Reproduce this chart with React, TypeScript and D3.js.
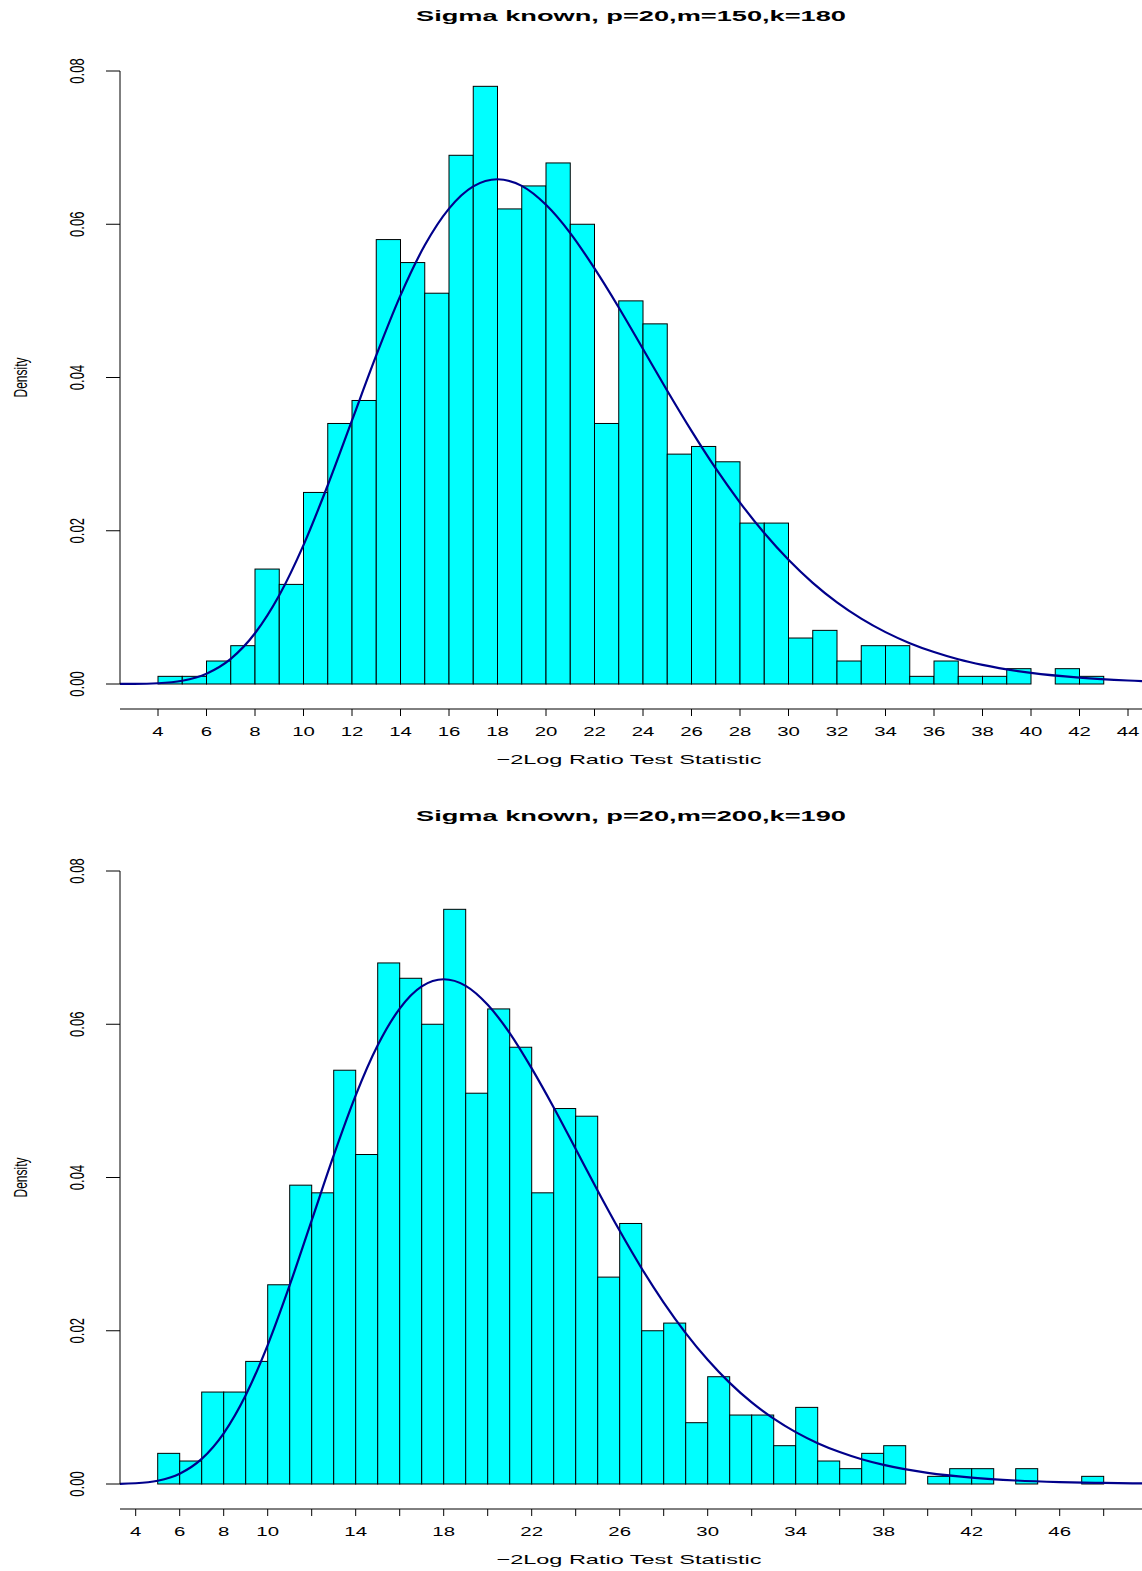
import React from "react";
import * as d3 from "d3";

// Histogram densities, one bin per unit of the statistic
const topBinStart = 4;
const topDensities = [
  0.001, 0.001, 0.003, 0.005, 0.015, 0.013, 0.025, 0.034, 0.037, 0.058,
  0.055, 0.051, 0.069, 0.078, 0.062, 0.065, 0.068, 0.06, 0.034, 0.05,
  0.047, 0.03, 0.031, 0.029, 0.021, 0.021, 0.006, 0.007, 0.003, 0.005,
  0.005, 0.001, 0.003, 0.001, 0.001, 0.002, 0, 0.002, 0.001,
];

const bottomBinStart = 5;
const bottomDensities = [
  0.004, 0.003, 0.012, 0.012, 0.016, 0.026, 0.039, 0.038, 0.054, 0.043,
  0.068, 0.066, 0.06, 0.075, 0.051, 0.062, 0.057, 0.038, 0.049, 0.048,
  0.027, 0.034, 0.02, 0.021, 0.008, 0.014, 0.009, 0.009, 0.005, 0.01,
  0.003, 0.002, 0.004, 0.005, 0, 0.001, 0.002, 0.002, 0, 0.002,
  0, 0, 0.001,
];

// Reference density curve (same in both panels)
const curveX = [
  2, 3, 4, 5, 6, 7, 8, 9, 10, 11, 12, 13, 14, 15, 16, 17, 18, 19, 20, 21,
  22, 23, 24, 25, 26, 27, 28, 29, 30, 31, 32, 33, 34, 35, 36, 37, 38, 40,
  42, 44, 46, 48, 50,
];
const curveY = [
  0.0000005, 0.0000118, 0.000095, 0.00043, 0.00135, 0.00328, 0.00662,
  0.01158, 0.01813, 0.02594, 0.03441, 0.04288, 0.05072, 0.05725, 0.06204,
  0.06494, 0.06587, 0.06501, 0.06254, 0.05885, 0.05424, 0.04914, 0.04372,
  0.03828, 0.03304, 0.02813, 0.02368, 0.0197, 0.01621, 0.0132, 0.01065,
  0.00853, 0.00677, 0.00533, 0.00417, 0.00323, 0.00249, 0.00145, 0.00083,
  0.00046, 0.00025, 0.000137, 0.000073,
];

const yTicks = [0, 0.02, 0.04, 0.06, 0.08];

const topTicks = d3.range(4, 45, 2);
const topTickLabels = topTicks;
const bottomTicks = d3.range(4, 49, 2);
const bottomTickLabels = [4, 6, 8, 10, 14, 18, 22, 26, 30, 34, 38, 42, 46];

const titles = [
  "Sigma known, p=20,m=150,k=180",
  "Sigma known, p=20,m=200,k=190",
];
const xLabel = "\u22122Log Ratio Test Statistic";
const yLabel = "Density";

const W = 1142;
const H = 1571;
const FONT = "'Liberation Sans', Arial, Helvetica, sans-serif";
const SX = 1.57;

type PanelProps = {
  offsetY: number;
  title: string;
  binStart: number;
  densities: number[];
  xDomain: [number, number];
  xRange: [number, number];
  ticks: number[];
  tickLabels: number[];
  id: string;
};

function Panel({ offsetY, title, binStart, densities, xDomain, xRange, ticks, tickLabels, id }: PanelProps) {
  const x = d3.scaleLinear().domain(xDomain).range(xRange);
  const y = d3.scaleLinear().domain([0, 0.08]).range([684, 71]);
  const plotLeft = 120;
  const axisY = 709;

  const line = d3
    .line<number>()
    .x((_, i) => x(curveX[i]))
    .y((d) => y(d))
    .curve(d3.curveMonotoneX);

  return (
    <g transform={`translate(0,${offsetY})`}>
      <defs>
        <clipPath id={id}>
          <rect x={plotLeft} y={0} width={W - plotLeft} height={700} />
        </clipPath>
      </defs>
      <text
        x={631}
        y={21}
        textAnchor="middle"
        fontFamily={FONT}
        fontWeight="bold"
        fontSize={14}
        textLength={430}
        lengthAdjust="spacingAndGlyphs"
      >
        {title}
      </text>

      {/* bars */}
      {densities.map((d, i) => {
        const x0 = x(binStart + i);
        const x1 = x(binStart + i + 1);
        return (
          <rect
            key={i}
            x={x0}
            y={y(d)}
            width={x1 - x0}
            height={y(0) - y(d)}
            fill="#00FFFF"
            stroke="#000"
            strokeWidth={1}
          />
        );
      })}

      {/* density curve */}
      <path
        d={line(curveY) || ""}
        fill="none"
        stroke="#00008B"
        strokeWidth={2.2}
        clipPath={`url(#${id})`}
      />

      {/* y axis */}
      <line x1={plotLeft} x2={plotLeft} y1={y(0)} y2={y(0.08)} stroke="#000" strokeWidth={1} />
      {yTicks.map((t) => (
        <g key={t}>
          <line x1={plotLeft - 14} x2={plotLeft} y1={y(t)} y2={y(t)} stroke="#000" strokeWidth={1} />
          <text
            transform={`translate(84,${y(t)}) scale(${SX},1) rotate(-90)`}
            textAnchor="middle"
            fontFamily={FONT}
            fontSize={13}
          >
            {t.toFixed(2)}
          </text>
        </g>
      ))}
      <text
        transform={`translate(27,${(y(0) + y(0.08)) / 2}) scale(${SX},1) rotate(-90)`}
        textAnchor="middle"
        fontFamily={FONT}
        fontSize={12}
      >
        {yLabel}
      </text>

      {/* x axis */}
      <line x1={plotLeft} x2={W} y1={axisY} y2={axisY} stroke="#000" strokeWidth={1} />
      {ticks.map((t) => (
        <line key={t} x1={x(t)} x2={x(t)} y1={axisY} y2={axisY + 7} stroke="#000" strokeWidth={1} />
      ))}
      {tickLabels.map((t) => (
        <text
          key={t}
          transform={`translate(${x(t)},736) scale(${SX},1)`}
          textAnchor="middle"
          fontFamily={FONT}
          fontSize={13}
        >
          {t}
        </text>
      ))}
      <text
        x={629}
        y={764}
        textAnchor="middle"
        fontFamily={FONT}
        fontSize={13}
        textLength={265}
        lengthAdjust="spacingAndGlyphs"
      >
        {xLabel}
      </text>
    </g>
  );
}

export default function App() {
  return (
    <div style={{ position: "absolute", left: 0, top: 0 }}>
      <svg width={W} height={H} style={{ display: "block", background: "#fff" }}>
        <Panel
          id="clipTop"
          offsetY={0}
          title={titles[0]}
          binStart={topBinStart}
          densities={topDensities}
          xDomain={[4, 44]}
          xRange={[158, 1128]}
          ticks={topTicks}
          tickLabels={topTickLabels}
        />
        <Panel
          id="clipBottom"
          offsetY={800}
          title={titles[1]}
          binStart={bottomBinStart}
          densities={bottomDensities}
          xDomain={[4, 48]}
          xRange={[135.7, 1103.7]}
          ticks={bottomTicks}
          tickLabels={bottomTickLabels}
        />
      </svg>
    </div>
  );
}
